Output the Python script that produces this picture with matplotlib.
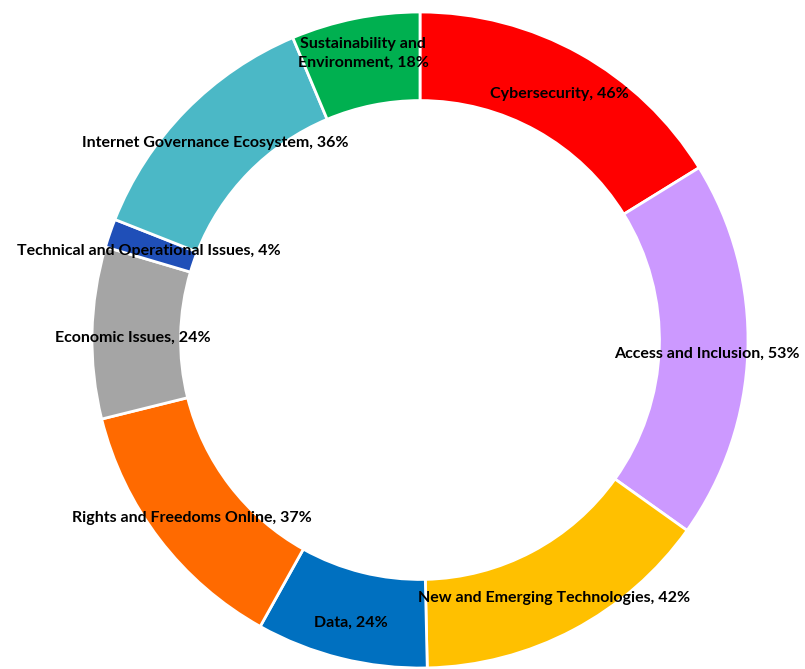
import matplotlib
matplotlib.use("Agg")
import matplotlib.pyplot as plt
import numpy as np

categories = ["Cybersecurity", "Access and Inclusion", "New and Emerging Technologies",
              "Data", "Rights and Freedoms Online", "Economic Issues",
              "Technical and Operational Issues", "Internet Governance Ecosystem",
              "Sustainability and\nEnvironment"]
values = [46, 53, 42, 24, 37, 24, 4, 36, 18]
colors = ["#FF0000", "#CC99FF", "#FFC000", "#0070C0", "#FF6A00", "#A5A5A5",
          "#1F4FB8", "#4BB8C6", "#00B050"]

fig = plt.figure(figsize=(8.05, 6.69), dpi=100)
W, H = 805, 669
cx, cy, R = 420, 340, 328
ax = fig.add_axes([(cx - R) / W, (H - cy - R) / H, 2 * R / W, 2 * R / H])
ax.set_axis_off()

wedges, _ = ax.pie(values, colors=colors, startangle=90, counterclock=False,
                   radius=1.0, wedgeprops=dict(width=0.27, edgecolor="white", linewidth=2))
ax.set_xlim(-1, 1)
ax.set_ylim(-1, 1)
ax.set_aspect("equal")

for w, cat, v in zip(wedges, categories, values):
    ang = np.deg2rad((w.theta1 + w.theta2) / 2)
    r = 0.875
    multiline = "\n" in cat
    dy = 4 if multiline else -3
    ax.annotate(f"{cat}, {v}%", xy=(r * np.cos(ang), r * np.sin(ang)),
                xytext=(0, dy), textcoords="offset points",
                ha="center", va="center",
                fontsize=11.5, fontweight="bold", family=["Lato", "DejaVu Sans"],
                color="black", linespacing=1.45)

fig.savefig("out.png", dpi=100)
